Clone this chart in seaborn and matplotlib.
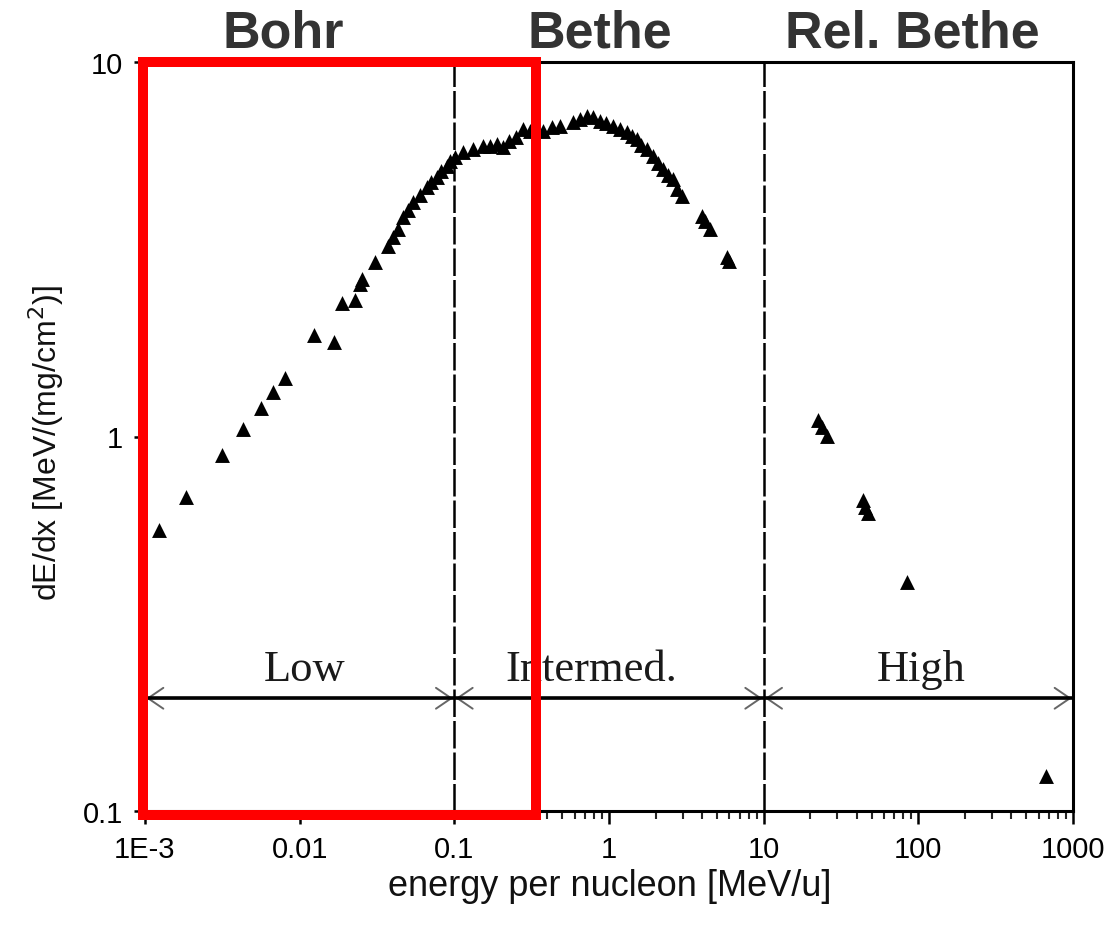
import matplotlib
matplotlib.use("Agg")
import matplotlib.pyplot as plt
from matplotlib.patches import Rectangle
from matplotlib.ticker import FixedLocator, LogLocator, NullFormatter
import seaborn as sns
import pandas as pd

# Stopping power data: energy per nucleon [MeV/u] and dE/dx [MeV/(mg/cm^2)]
energy = [
    0.001231, 0.001854, 0.003147, 0.004300, 0.005600, 0.006752, 0.008035,
    0.01237, 0.01666, 0.01869, 0.02278, 0.02453, 0.02527, 0.03068, 0.03738,
    0.04008, 0.04339, 0.04674, 0.05013, 0.05425, 0.05990, 0.06622, 0.07059,
    0.07684, 0.08193, 0.08916, 0.09367, 0.1009, 0.1142, 0.1325, 0.1538,
    0.1699, 0.1877, 0.2071, 0.2253, 0.2501, 0.2789, 0.3083, 0.3756, 0.4274,
    0.4816, 0.5871, 0.6484, 0.7164, 0.787, 0.8733, 0.955, 1.065, 1.176,
    1.300, 1.406, 1.508, 1.608, 1.751, 1.931, 2.071, 2.240, 2.403, 2.600,
    2.747, 2.947, 3.968, 4.168, 4.489, 5.757, 5.957,
    22.51, 23.78, 25.50, 43.58, 45.11, 47.38, 83.88, 667.2,
]
dedx = [
    0.563, 0.690, 0.890, 1.047, 1.189, 1.312, 1.430,
    1.866, 1.785, 2.273, 2.317, 2.554, 2.634, 2.918, 3.232,
    3.410, 3.582, 3.848, 4.025, 4.221, 4.414, 4.628, 4.782,
    4.921, 5.116, 5.286, 5.441, 5.566, 5.740, 5.857, 5.977,
    5.966, 6.040, 5.930, 6.152, 6.295, 6.624, 6.541, 6.553, 6.706,
    6.760, 6.902, 7.044, 7.188, 7.131, 6.971, 6.873, 6.760, 6.624,
    6.489, 6.345, 6.230, 6.003, 5.857, 5.621, 5.375, 5.180, 4.993, 4.871,
    4.579, 4.395, 3.887, 3.763, 3.582, 3.015, 2.942,
    1.107, 1.060, 1.005, 0.677, 0.648, 0.623, 0.408, 0.1243,
]

x_ticks = [1e-3, 1e-2, 1e-1, 1, 10, 100, 1000]
x_tick_labels = ["1E-3", "0.01", "0.1", "1", "10", "100", "1000"]
y_ticks = [0.1, 1, 10]
y_tick_labels = ["0.1", "1", "10"]

# Energy regimes: boundaries, names and the theory that applies
regime_edges = [1e-3, 0.1, 10, 1000]
regime_names = ["Low", "Intermed.", "High"]
regime_label_x = [0.0108, 0.764, 103.7]
theory_names = ["Bohr", "Bethe", "Rel. Bethe"]
theory_label_x = [283.5 / 1111, 600 / 1111, 912 / 1111]
arrow_level = 0.2

df = pd.DataFrame({"energy": energy, "dedx": dedx})

sns.set_style("ticks")
plt.rcParams["font.family"] = ["Liberation Sans", "DejaVu Sans"]

fig = plt.figure(figsize=(11.11, 9.28), dpi=100)
ax = fig.add_axes([145 / 1111, 116 / 928, 928 / 1111, 749 / 928])

sns.scatterplot(data=df, x="energy", y="dedx", marker="^", s=115,
                color="black", linewidth=0, ax=ax, zorder=4)

ax.set_xscale("log")
ax.set_yscale("log")
ax.set_xlim(1e-3, 1000)
ax.set_ylim(0.1, 10)

ax.xaxis.set_major_locator(FixedLocator(x_ticks))
ax.set_xticklabels(x_tick_labels)
ax.yaxis.set_major_locator(FixedLocator(y_ticks))
ax.set_yticklabels(y_tick_labels)
ax.xaxis.set_minor_locator(LogLocator(base=10, subs=range(2, 10), numticks=20))
ax.yaxis.set_minor_locator(LogLocator(base=10, subs=range(2, 10), numticks=20))
ax.xaxis.set_minor_formatter(NullFormatter())
ax.yaxis.set_minor_formatter(NullFormatter())

for side in ["top", "right", "bottom", "left"]:
    ax.spines[side].set_linewidth(2.2)
    ax.spines[side].set_color("black")

ax.tick_params(axis="x", which="major", direction="out", length=9, width=1.8,
               pad=8, labelsize=21, colors="black")
ax.tick_params(axis="x", which="minor", direction="out", length=5.5, width=1.5)
ax.tick_params(axis="y", which="major", direction="out", length=8, width=1.8,
               pad=8, labelsize=21, colors="black")
ax.tick_params(axis="y", which="minor", direction="out", length=3, width=1.3)

ax.set_xlabel("energy per nucleon [MeV/u]", fontsize=26, color="#111111")
ax.set_ylabel("dE/dx [MeV/(mg/cm$^2$)]", fontsize=23, color="#111111")
ax.xaxis.set_label_coords(0.501, -0.076)
ax.yaxis.set_label_coords(-0.085, 0.493)

# Regime boundaries
for xb in regime_edges[1:-1]:
    ax.axvline(xb, color="black", lw=1.8, dashes=(11, 1.6), zorder=3)

# Horizontal regime bar with open arrowheads on each segment
for x0, x1 in zip(regime_edges[:-1], regime_edges[1:]):
    ax.annotate("", xy=(x1 * 0.98, arrow_level), xytext=(x0 * 1.02, arrow_level),
                arrowprops=dict(arrowstyle="<->,head_length=1.1,head_width=0.75",
                                color="#666666", lw=1.4, shrinkA=0, shrinkB=0),
                zorder=3)
ax.plot([regime_edges[0], regime_edges[-1]], [arrow_level, arrow_level],
        color="black", lw=2.6, zorder=3.5, solid_capstyle="butt")

for name, xl in zip(regime_names, regime_label_x):
    ax.text(xl, 0.224, name, ha="center", va="baseline", fontsize=32,
            family=["Liberation Serif", "DejaVu Serif"], color="#1a1a1a")

# Theory names above the plot
for name, xf in zip(theory_names, theory_label_x):
    fig.text(xf, (928 - 48) / 928, name, ha="center", va="baseline",
             fontsize=37.5, fontweight="bold", color="#333333")

# Highlight of the Bohr regime
ax.add_patch(Rectangle((-0.002, -0.005), 0.4233, 1.005, transform=ax.transAxes,
                       fill=False, edgecolor="#ff0000", lw=7.2, clip_on=False,
                       zorder=6))

fig.savefig("out.png", dpi=100)
